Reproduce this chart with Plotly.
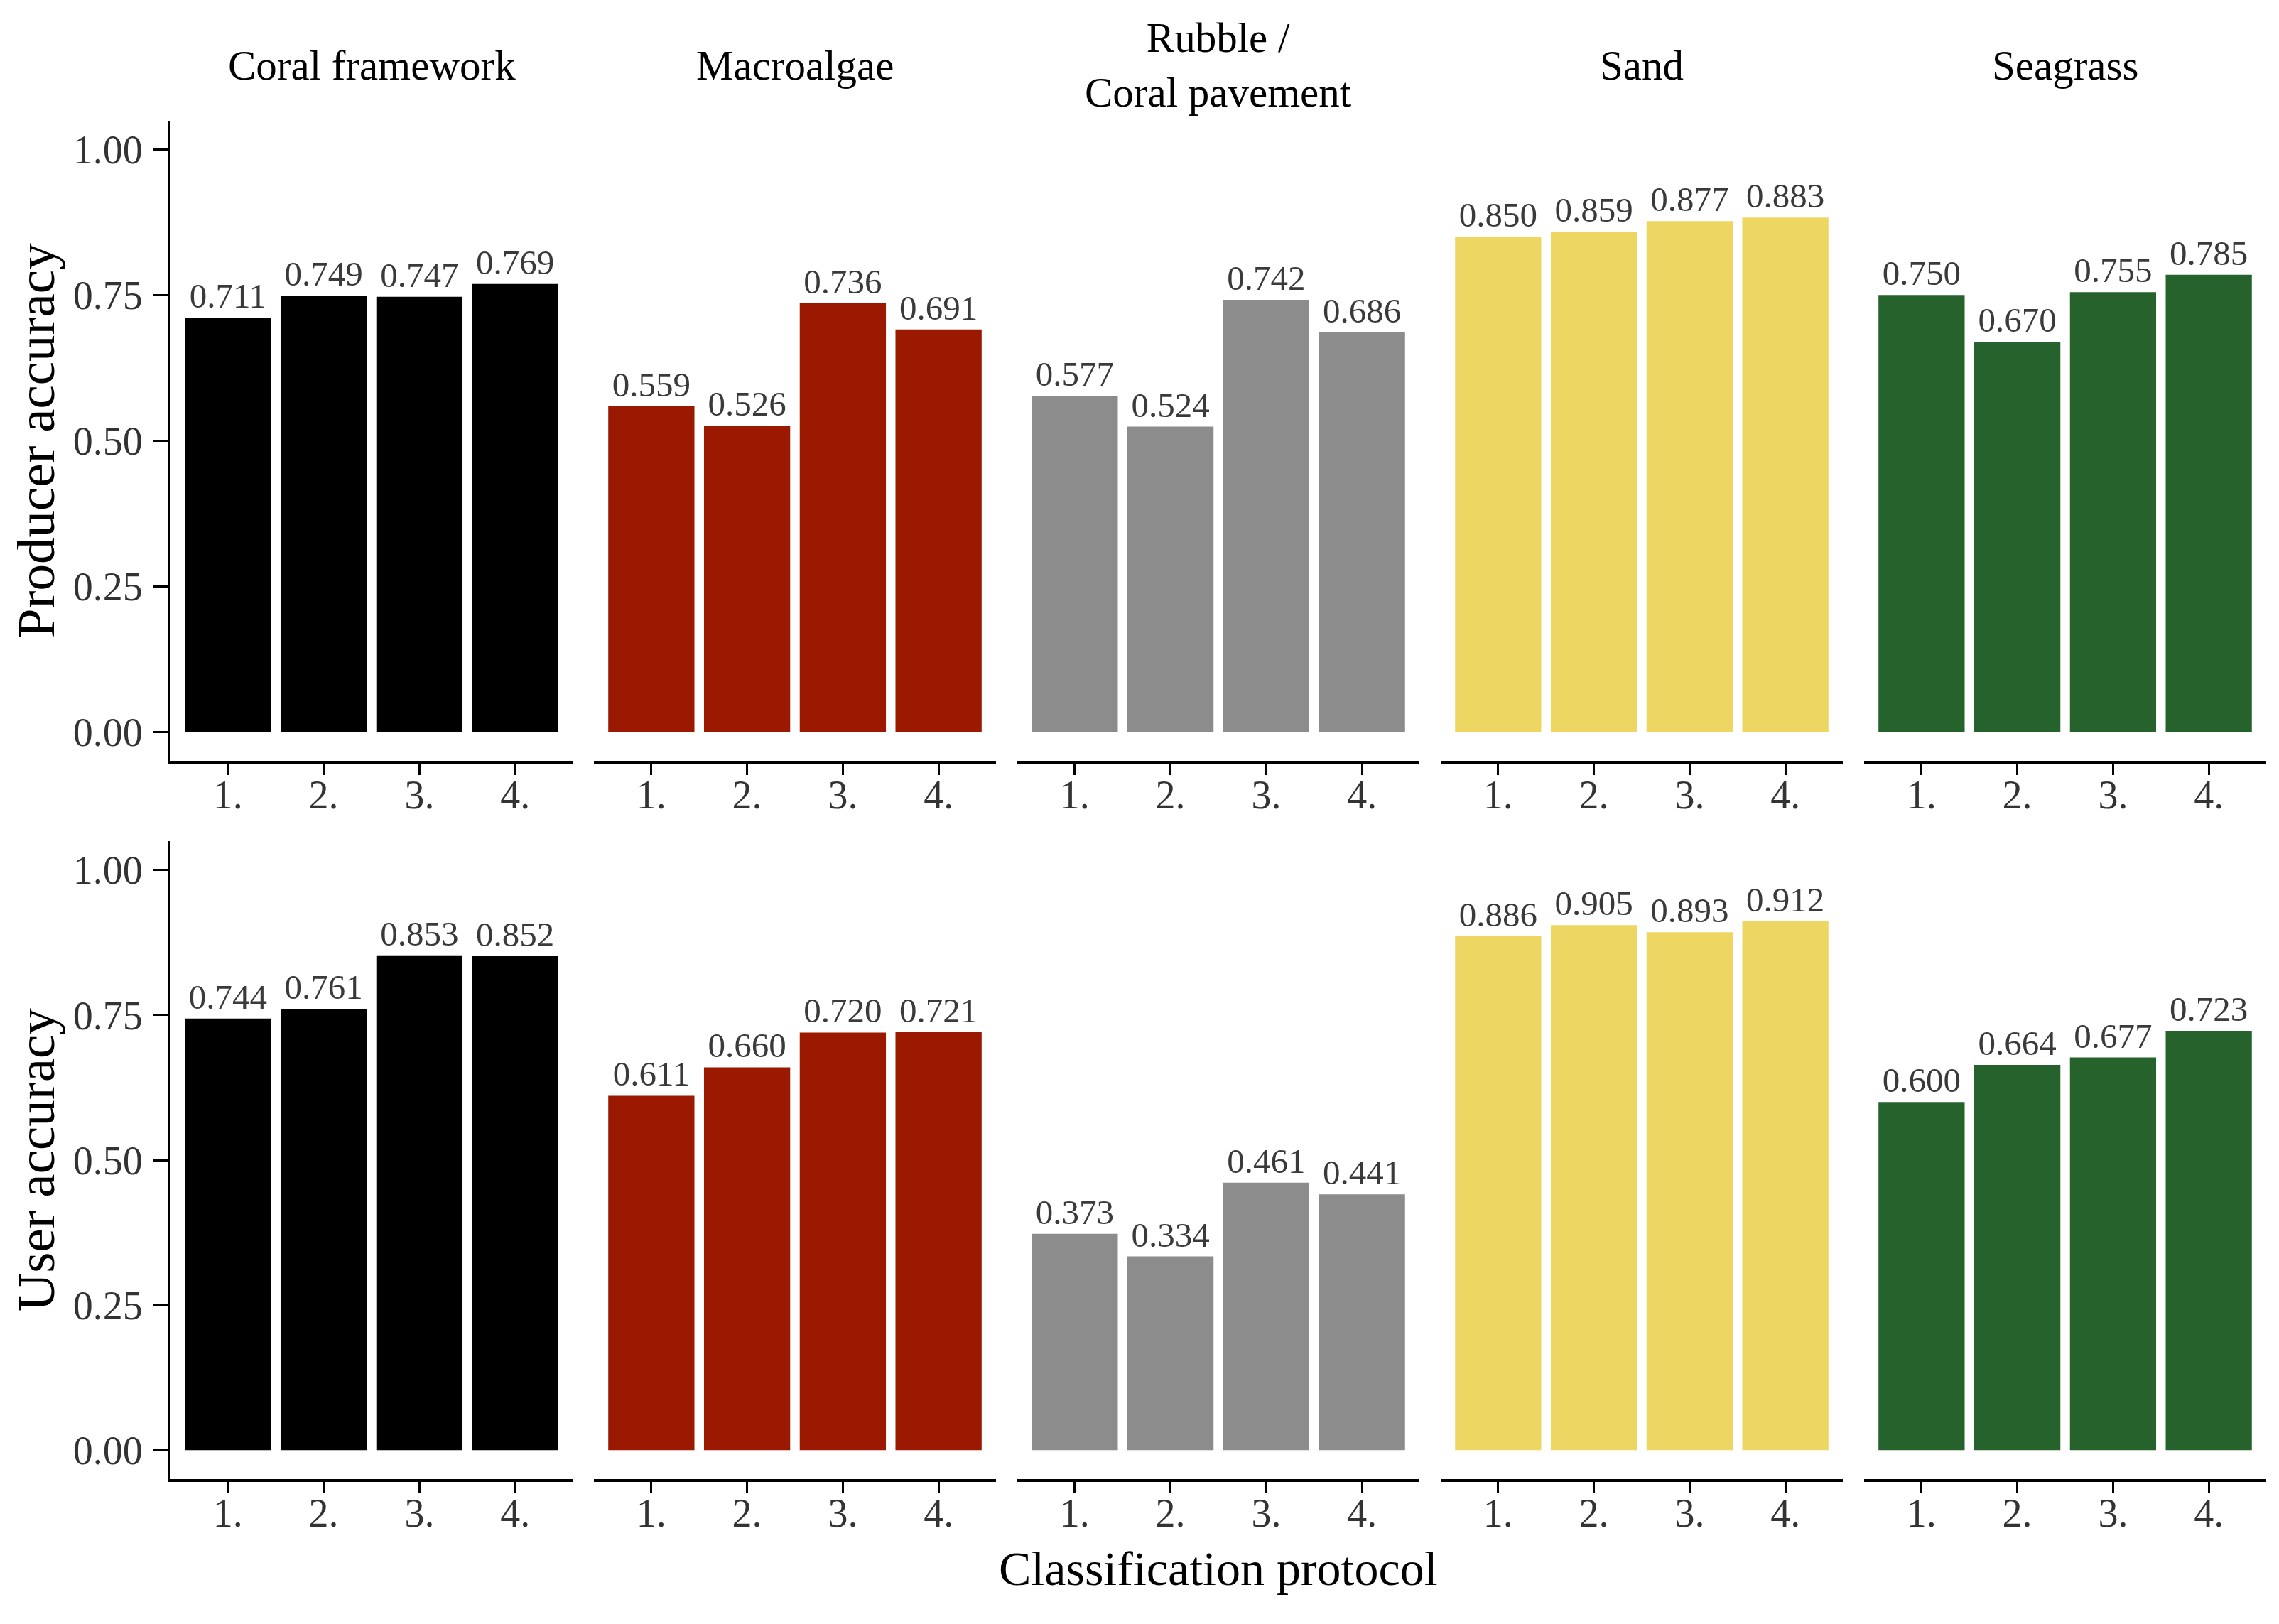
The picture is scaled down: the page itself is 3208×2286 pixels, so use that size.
import plotly.graph_objects as go

# ---------------- data ----------------
classes = ["Coral framework", "Macroalgae", "Rubble /<br>Coral pavement", "Sand", "Seagrass"]
protocols = ["1.", "2.", "3.", "4."]

producer_coral = [0.711, 0.749, 0.747, 0.769]
producer_macro = [0.559, 0.526, 0.736, 0.691]
producer_rubble = [0.577, 0.524, 0.742, 0.686]
producer_sand = [0.850, 0.859, 0.877, 0.883]
producer_seagrass = [0.750, 0.670, 0.755, 0.785]

user_coral = [0.744, 0.761, 0.853, 0.852]
user_macro = [0.611, 0.660, 0.720, 0.721]
user_rubble = [0.373, 0.334, 0.461, 0.441]
user_sand = [0.886, 0.905, 0.893, 0.912]
user_seagrass = [0.600, 0.664, 0.677, 0.723]

row_titles = ["Producer accuracy", "User accuracy"]
x_title = "Classification protocol"
y_tickvals = [0.0, 0.25, 0.5, 0.75, 1.0]
y_ticktext = ["0.00", "0.25", "0.50", "0.75", "1.00"]

colors = ["#000000", "#9A1900", "#8C8C8C", "#EDD662", "#26622B"]

rows = [
    [producer_coral, producer_macro, producer_rubble, producer_sand, producer_seagrass],
    [user_coral, user_macro, user_rubble, user_sand, user_seagrass],
]

# ---------------- layout geometry (pixels) ----------------
W, H = 3208, 2286
FONT = "Liberation Serif"
panel_x0 = 232
panel_w = 566
panel_gap = 30
row_tops = [161.5, 1176]
row_bottoms = [1063, 2074]

fig = go.Figure()
layout = dict(
    width=W, height=H,
    margin=dict(l=0, r=0, t=0, b=0),
    paper_bgcolor="white", plot_bgcolor="white",
    showlegend=False,
    bargap=0.1,
    font=dict(family=FONT, size=56, color="#333333"),
)

annotations = []
idx = 0
for r, row in enumerate(rows):
    for c, vals in enumerate(row):
        idx += 1
        xa = "x" if idx == 1 else f"x{idx}"
        ya = "y" if idx == 1 else f"y{idx}"
        fig.add_trace(go.Bar(
            x=protocols, y=vals, xaxis=xa, yaxis=ya,
            marker=dict(color=colors[c], line=dict(width=0)),
            width=0.9,
            text=[f"{v:.3f}" for v in vals],
            textposition="outside",
            textfont=dict(family=FONT, size=49, color="#3a3a3a"),
            constraintext="none",
            cliponaxis=False,
            hoverinfo="x+y",
        ))
        x0 = panel_x0 + c * (panel_w + panel_gap)
        x1 = x0 + panel_w
        y_bot = 1 - row_bottoms[r] / H
        y_top = 1 - row_tops[r] / H
        xkey = "xaxis" if idx == 1 else f"xaxis{idx}"
        ykey = "yaxis" if idx == 1 else f"yaxis{idx}"
        layout[xkey] = dict(
            domain=[x0 / W, x1 / W], anchor=ya,
            type="category", range=[-0.6, 3.6],
            showline=True, linecolor="black", linewidth=4,
            ticks="outside", ticklen=16, tickwidth=3, tickcolor="black",
            tickfont=dict(family=FONT, size=56, color="#333333"),
            ticklabelstandoff=-20,
            showgrid=False, zeroline=False, fixedrange=True,
        )
        first_col = (c == 0)
        layout[ykey] = dict(
            domain=[y_bot, y_top], anchor=xa,
            range=[-0.05, 1.05],
            tickvals=y_tickvals, ticktext=y_ticktext,
            showline=first_col, linecolor="black", linewidth=4,
            ticks="outside" if first_col else "", ticklen=20, tickwidth=3, tickcolor="black",
            showticklabels=first_col,
            tickfont=dict(family=FONT, size=56, color="#333333"),
            ticklabelstandoff=4,
            showgrid=False, zeroline=False, fixedrange=True,
        )
        if r == 0:
            annotations.append(dict(
                text=classes[c], x=(x0 + x1) / 2 / W, y=1 - 84 / H,
                xref="paper", yref="paper", xanchor="center", yanchor="middle",
                showarrow=False, font=dict(family=FONT, size=59, color="black"),
            ))
    annotations.append(dict(
        text=row_titles[r], x=42 / W, y=1 - (row_tops[r] + row_bottoms[r]) / 2 / H,
        xref="paper", yref="paper", xanchor="center", yanchor="middle",
        textangle=-90, showarrow=False,
        font=dict(family=FONT, size=75, color="black"),
    ))

total_x0 = panel_x0
total_x1 = panel_x0 + 5 * panel_w + 4 * panel_gap
annotations.append(dict(
    text=x_title, x=(total_x0 + total_x1) / 2 / W, y=1 - 2200 / H,
    xref="paper", yref="paper", xanchor="center", yanchor="middle",
    showarrow=False, font=dict(family=FONT, size=68, color="black"),
))

layout["annotations"] = annotations
fig.update_layout(**layout)
fig.write_html("out.html")
